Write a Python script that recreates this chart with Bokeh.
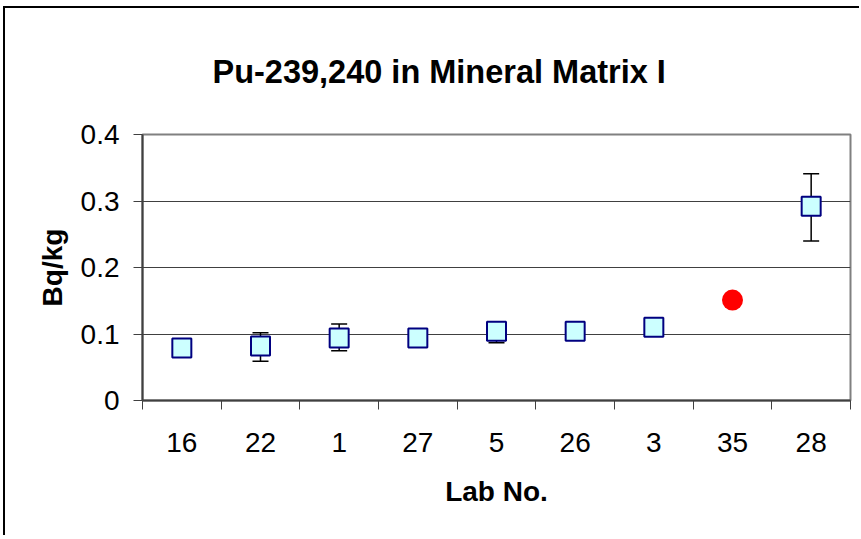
from bokeh.plotting import figure
from bokeh.models import Range1d, FixedTicker, ColumnDataSource, Whisker, TeeHead, Title
from bokeh.embed import file_html
from bokeh.resources import INLINE

# ---- data ----
labs = ["16", "22", "1", "27", "5", "26", "3", "35", "28"]
values = [0.079, 0.082, 0.094, 0.094, 0.104, 0.104, 0.110, 0.151, 0.292]
err_low = [None, 0.059, 0.075, None, 0.087, None, None, None, 0.240]
err_high = [None, 0.102, 0.115, None, 0.117, None, None, None, 0.341]
flagged = [False, False, False, False, False, False, False, True, False]
y_ticks = [0, 0.1, 0.2, 0.3, 0.4]
y_tick_labels = ["0", "0.1", "0.2", "0.3", "0.4"]
title_text = "Pu-239,240 in Mineral Matrix I"
x_title = "Lab No."
y_title = "Bq/kg"

FONT = "Liberation Sans"

# layout (pixels, relative to the figure canvas)
W, H = 856, 529
ML, MR, MT, MB = 137, 11, 126, 137

n = len(labs)
centers = [i + 0.5 for i in range(n)]
bounds = [float(i) for i in range(n + 1)]
y0, y1 = y_ticks[0], y_ticks[-1]

p = figure(width=W, height=H, output_backend="svg", toolbar_location=None,
           x_range=Range1d(0, n), y_range=Range1d(y0, y1),
           min_border_left=ML, min_border_right=MR, min_border_top=MT, min_border_bottom=MB)
p.background_fill_color = "white"
p.border_fill_color = "white"
p.outline_line_color = "#808080"
p.outline_line_width = 2
p.styles = {"box-shadow": "-2px -2px 0px 0px black",
            "margin-left": "5px", "margin-top": "8px"}

# chart title, pushed up as far as the top border allows
main_title = Title(text=title_text, align="left", offset=70, vertical_align="top",
                   standoff=86, text_font=FONT, text_font_style="bold",
                   text_font_size="32.5px", text_color="black")
p.add_layout(main_title, "above")

# x axis: labels at category centres, ticks at category boundaries
xa = p.xaxis[0]
xa.ticker = FixedTicker(ticks=centers, minor_ticks=bounds)
xa.major_label_overrides = {c: l for c, l in zip(centers, labs)}
xa.major_tick_line_color = None
xa.major_tick_out = 0
xa.major_tick_in = 0
xa.minor_tick_line_color = "#404040"
xa.minor_tick_line_width = 1
xa.minor_tick_out = 9
xa.minor_tick_in = 0
xa.axis_line_color = "#404040"
xa.axis_line_width = 2
xa.major_label_text_font = FONT
xa.major_label_text_font_size = "28px"
xa.major_label_text_color = "black"
xa.major_label_standoff = 23
xa.axis_label = x_title
xa.axis_label_text_font = FONT
xa.axis_label_text_font_style = "bold"
xa.axis_label_text_font_size = "28px"
xa.axis_label_text_color = "black"
xa.axis_label_standoff = 21

ya = p.yaxis[0]
ya.ticker = FixedTicker(ticks=y_ticks, minor_ticks=[])
ya.major_label_overrides = {t: l for t, l in zip(y_ticks, y_tick_labels)}
ya.major_tick_line_color = "#404040"
ya.major_tick_out = 9
ya.major_tick_in = 0
ya.minor_tick_line_color = None
ya.axis_line_color = "#404040"
ya.axis_line_width = 2
ya.major_label_text_font = FONT
ya.major_label_text_font_size = "28px"
ya.major_label_text_color = "black"
ya.major_label_standoff = 14
ya.axis_label = y_title
ya.axis_label_text_font = FONT
ya.axis_label_text_font_style = "bold"
ya.axis_label_text_font_size = "28px"
ya.axis_label_text_color = "black"
ya.axis_label_standoff = 10

p.xgrid.grid_line_color = None
p.ygrid.grid_line_color = "#404040"
p.ygrid.grid_line_width = 1

# error bars
eb_x = [c for c, lo in zip(centers, err_low) if lo is not None]
eb_lo = [lo for lo in err_low if lo is not None]
eb_hi = [hi for hi, lo in zip(err_high, err_low) if lo is not None]
eb_src = ColumnDataSource(dict(x=eb_x, lower=eb_lo, upper=eb_hi))
wh = Whisker(source=eb_src, base="x", lower="lower", upper="upper", dimension="height",
             line_color="black", line_width=1.5, level="underlay",
             upper_head=TeeHead(size=16, line_color="black", line_width=1.5),
             lower_head=TeeHead(size=16, line_color="black", line_width=1.5))
p.add_layout(wh)

sq_src = ColumnDataSource(dict(x=[c for c, f in zip(centers, flagged) if not f],
                               y=[v for v, f in zip(values, flagged) if not f]))
p.scatter("x", "y", source=sq_src, marker="square", size=19,
          fill_color="#CCFFFF", line_color="#000080", line_width=2)
rd_src = ColumnDataSource(dict(x=[c for c, f in zip(centers, flagged) if f],
                               y=[v for v, f in zip(values, flagged) if f]))
p.scatter("x", "y", source=rd_src, marker="circle", size=21,
          fill_color="#FF0000", line_color=None)

open("out.html", "w").write(file_html(p, INLINE))
